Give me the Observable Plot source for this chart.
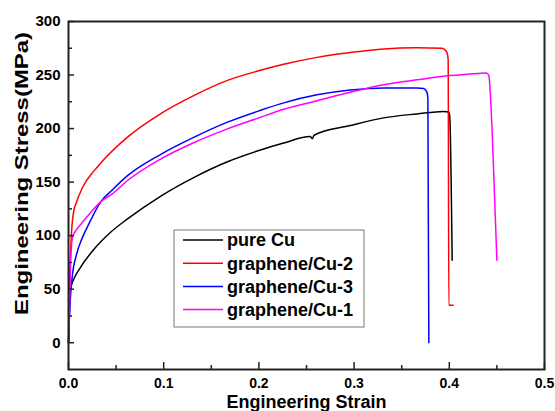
<!DOCTYPE html>
<html><head><meta charset="utf-8">
<script src="https://cdn.jsdelivr.net/npm/d3@7"></script>
<script src="https://cdn.jsdelivr.net/npm/@observablehq/plot@0.6"></script>
<style>body{margin:0;background:#fff} svg{display:block}</style>
</head><body><div id="chart"></div>
<script>
const seriesNames = ["pure Cu", "graphene/Cu-2", "graphene/Cu-3", "graphene/Cu-1"];
const seriesColors = ["#000000", "#ff0000", "#0000ff", "#ff00ff"];

const pureCuStrain = [0, 0.001, 0.002, 0.0056, 0.0126, 0.027, 0.044, 0.062, 0.097, 0.132, 0.167, 0.2, 0.226, 0.254, 0.256, 0.258, 0.296, 0.331, 0.366, 0.394, 0.3995, 0.4005, 0.403];
const pureCuStress = [0, 30, 50, 59.5, 70.4, 87.6, 103, 115.6, 137, 154.5, 169, 179.5, 186.5, 192.5, 190.5, 193.8, 202.8, 210, 213.7, 216, 215.5, 211, 77];

const gCu2Strain = [0, 0.001, 0.003, 0.0055, 0.0077, 0.0147, 0.027, 0.034, 0.062, 0.097, 0.132, 0.167, 0.2, 0.226, 0.261, 0.296, 0.331, 0.366, 0.3925, 0.397, 0.3988, 0.3995, 0.404];
const gCu2Stress = [0, 50, 100, 123, 129.6, 145, 160.7, 168, 192, 214, 231, 245, 254, 260, 266.5, 271, 274.4, 275.5, 275, 272, 265, 35, 35];

const gCu3Strain = [0, 0.001, 0.0042, 0.0077, 0.0147, 0.0217, 0.034, 0.046, 0.062, 0.097, 0.132, 0.167, 0.2, 0.226, 0.261, 0.296, 0.331, 0.366, 0.373, 0.3765, 0.3775, 0.3785];
const gCu3Stress = [0, 25, 64, 80, 98.4, 111.5, 131.8, 142.7, 156, 176, 192, 206, 216.5, 224, 231.5, 236, 238, 238, 237.5, 234, 228, 0];

const gCu1Strain = [0, 0.001, 0.002, 0.0042, 0.0077, 0.0147, 0.0217, 0.034, 0.046, 0.062, 0.097, 0.132, 0.167, 0.2, 0.226, 0.261, 0.296, 0.331, 0.366, 0.401, 0.43, 0.439, 0.4415, 0.445, 0.45];
const gCu1Stress = [0, 30, 70, 98.4, 104.7, 112.5, 120, 131.8, 139, 151.5, 171.7, 187, 199.7, 210, 218, 226, 234, 241, 245.5, 249.5, 251.5, 252, 249.5, 198, 77];

const xMajorTicks = [0, 0.1, 0.2, 0.3, 0.4, 0.5];
const xMinorTicks = [0.05, 0.15, 0.25, 0.35, 0.45];
const yMajorTicks = [0, 50, 100, 150, 200, 250, 300];
const yMinorTicks = [25, 75, 125, 175, 225, 275];

const seriesData = [
  [pureCuStrain, pureCuStress],
  [gCu2Strain, gCu2Stress],
  [gCu3Strain, gCu3Stress],
  [gCu1Strain, gCu1Stress]
];
const rows = [];
seriesData.forEach(([xs, ys], i) => xs.forEach((x, j) => rows.push({series: seriesNames[i], strain: x, stress: ys[j]})));

const font = '"Liberation Sans", Arial, Helvetica, sans-serif';

const plot = Plot.plot({
  width: 555, height: 411,
  marginLeft: 68, marginRight: 11, marginTop: 21, marginBottom: 42,
  style: {fontFamily: font, background: "#fff", color: "#000", overflow: "visible"},
  x: {domain: [0, 0.5]},
  y: {domain: [-25, 300]},
  color: {domain: seriesNames, range: seriesColors},
  marks: [
    Plot.line(rows, {x: "strain", y: "stress", z: "series", stroke: "series", strokeWidth: 1.5, curve: "monotone-x"}),
    Plot.axisX(xMajorTicks, {tickSize: 0, tickPadding: 9, tickFormat: d3.format(".1f"), fontSize: 14, fontWeight: "bold", label: null}),
    Plot.axisX(xMajorTicks, {text: null, tickSize: 7, dy: -7, label: null, stroke: "#222", strokeWidth: 1.5}),
    Plot.axisX(xMinorTicks, {text: null, tickSize: 4, dy: -4, label: null, stroke: "#222", strokeWidth: 1.5}),
    Plot.axisY(yMajorTicks, {tickSize: 0, tickPadding: 8, fontSize: 15, fontWeight: "bold", label: null}),
    Plot.axisY(yMajorTicks, {text: null, tickSize: 6, dx: 6, label: null, stroke: "#222", strokeWidth: 1.5}),
    Plot.axisY(yMinorTicks, {text: null, tickSize: 4, dx: 4, label: null, stroke: "#222", strokeWidth: 1.5}),
    Plot.frame({stroke: "#222", strokeWidth: 2}),
    Plot.text(["Engineering Strain"], {frameAnchor: "bottom", dy: 33, lineAnchor: "middle", fontSize: 18, fontWeight: "bold", fill: "#000"})
  ]
});
document.getElementById("chart").appendChild(plot);

const svg = d3.select(plot);

// y-axis title (stretched vertically as in the reference)
svg.append("text")
  .attr("transform", "translate(22,173.5) rotate(-90) scale(1.33,1)")
  .attr("text-anchor", "middle").attr("dy", "0.35em")
  .attr("font-family", font).attr("font-size", 18).attr("font-weight", "bold").attr("fill", "#000")
  .text("Engineering Stress(MPa)");

// legend
const lg = svg.append("g").attr("font-family", font);
lg.append("rect").attr("x", 174).attr("y", 230).attr("width", 190).attr("height", 97)
  .attr("fill", "#fff").attr("stroke", "#777").attr("stroke-width", 1);
seriesNames.forEach((name, i) => {
  const yy = 240 + i * 23.2;
  lg.append("line").attr("x1", 183).attr("x2", 223).attr("y1", yy).attr("y2", yy)
    .attr("stroke", seriesColors[i]).attr("stroke-width", 1.5);
  lg.append("text").attr("x", 227).attr("y", yy).attr("dy", "0.35em").attr("text-anchor", "start")
    .attr("font-size", 18).attr("font-weight", "bold").attr("fill", "#000").text(name);
});
</script>
</body></html>
